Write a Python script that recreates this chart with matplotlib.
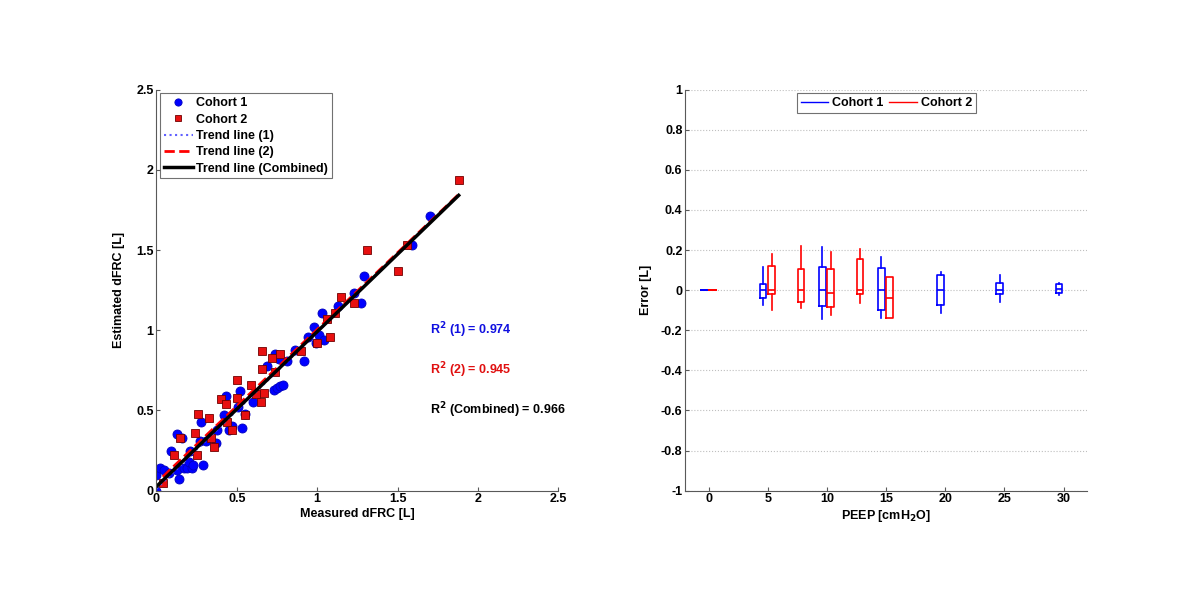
import numpy as np
import matplotlib.pyplot as plt
import matplotlib as mpl

mpl.rcParams['font.family'] = ['Liberation Sans', 'DejaVu Sans']
mpl.rcParams['font.weight'] = 'bold'
mpl.rcParams['axes.labelweight'] = 'bold'
mpl.rcParams['xtick.direction'] = 'in'
mpl.rcParams['ytick.direction'] = 'in'

# ---- left panel: measured vs estimated dFRC ----
c1_meas = [0.00, 0.00, 0.02, 0.05, 0.08, 0.09, 0.13, 0.14, 0.13, 0.16, 0.17, 0.19, 0.20,
           0.21, 0.22, 0.23, 0.29, 0.27, 0.28, 0.31, 0.37, 0.38, 0.42, 0.43, 0.45, 0.47,
           0.53, 0.52, 0.51, 0.55, 0.60, 0.69, 0.73, 0.75, 0.77, 0.79, 0.74, 0.76, 0.81,
           0.86, 0.92, 0.94, 0.98, 0.99, 1.01, 1.04, 1.03, 1.13, 1.23, 1.27, 1.29, 1.59, 1.70]
c1_est = [0.00, 0.10, 0.14, 0.13, 0.11, 0.25, 0.13, 0.07, 0.35, 0.33, 0.14, 0.14, 0.18,
          0.25, 0.14, 0.16, 0.16, 0.31, 0.43, 0.31, 0.30, 0.38, 0.47, 0.59, 0.38, 0.40,
          0.39, 0.62, 0.52, 0.48, 0.55, 0.78, 0.63, 0.64, 0.65, 0.66, 0.85, 0.82, 0.81,
          0.88, 0.81, 0.96, 1.02, 0.92, 0.97, 0.94, 1.11, 1.15, 1.23, 1.17, 1.34, 1.53, 1.71]
c2_meas = [0.04, 0.11, 0.15, 0.25, 0.24, 0.26, 0.33, 0.34, 0.36, 0.40, 0.43, 0.44, 0.47,
           0.50, 0.50, 0.55, 0.59, 0.62, 0.65, 0.67, 0.66, 0.66, 0.72, 0.74, 0.77, 0.90,
           1.00, 1.06, 1.08, 1.11, 1.15, 1.23, 1.31, 1.50, 1.56, 1.88]
c2_est = [0.05, 0.22, 0.33, 0.22, 0.36, 0.48, 0.45, 0.33, 0.27, 0.57, 0.54, 0.43, 0.38,
          0.69, 0.58, 0.47, 0.66, 0.60, 0.55, 0.61, 0.76, 0.87, 0.83, 0.74, 0.85, 0.87,
          0.92, 1.07, 0.96, 1.11, 1.21, 1.17, 1.50, 1.37, 1.53, 1.94]

# trend lines: slope, intercept
trend1 = (0.975, 0.012)
trend2 = (0.957, 0.048)
trend_all = (0.966, 0.025)
r2_labels = ['R$^2$ (1) = 0.974', 'R$^2$ (2) = 0.945', 'R$^2$ (Combined) = 0.966']
r2_colors = ['#1010e0', '#e01010', 'black']
r2_y = [1.0, 0.75, 0.5]

# ---- right panel: error vs PEEP (box stats: whislo, q1, med, q3, whishi) ----
peep1 = [0, 5, 10, 15, 20, 25, 30]
box1 = [(0, 0, 0, 0, 0),
        (-0.075, -0.038, 0.0, 0.030, 0.117),
        (-0.142, -0.080, 0.0, 0.117, 0.217),
        (-0.137, -0.097, 0.0, 0.113, 0.163),
        (-0.113, -0.072, 0.0, 0.078, 0.092),
        (-0.058, -0.017, 0.003, 0.037, 0.078),
        (-0.023, -0.013, 0.008, 0.032, 0.038)]
peep2 = [0, 5, 7.5, 10, 12.5, 15]
box2 = [(0, 0, 0, 0, 0),
        (-0.097, -0.020, 0.003, 0.123, 0.180),
        (-0.088, -0.060, 0.003, 0.105, 0.220),
        (-0.122, -0.082, -0.012, 0.108, 0.188),
        (-0.063, -0.020, 0.003, 0.157, 0.207),
        (-0.137, -0.137, -0.037, 0.067, 0.067)]

blue = '#0000ff'
red = '#ff0000'
spine_col = '0.35'

fig = plt.figure(figsize=(12, 6.02), dpi=100)
ax = fig.add_axes([0.1303, 0.185, 0.335, 0.666])
ax2 = fig.add_axes([0.571, 0.185, 0.335, 0.666])

# scatter
ax.plot(c1_meas, c1_est, 'o', color=blue, mec='#0000c0', mew=0.6, ms=6.5, label='Cohort 1')
ax.plot(c2_meas, c2_est, 's', color='#e81010', mec='#700000', mew=0.6, ms=5.2, label='Cohort 2')

xx1 = np.array([min(c1_meas), max(c1_meas)])
xx2 = np.array([min(c2_meas), max(c2_meas)])
xxa = np.array([min(c1_meas + c2_meas), max(c1_meas + c2_meas)])
ax.plot(xx1, trend1[0] * xx1 + trend1[1], ':', color='#6060ff', lw=1.5, label='Trend line (1)')
ax.plot(xx2, trend2[0] * xx2 + trend2[1], '--', color=red, lw=2, label='Trend line (2)')
ax.plot(xxa, trend_all[0] * xxa + trend_all[1], '-', color='black', lw=2.5, label='Trend line (Combined)')

for lab, col, yy in zip(r2_labels, r2_colors, r2_y):
    ax.text(1.70, yy, lab, color=col, fontsize=9, fontweight='bold', va='center')

ax.set_xlim(0, 2.5)
ax.set_ylim(0, 2.5)
ax.set_xticks([0, 0.5, 1, 1.5, 2, 2.5])
ax.set_yticks([0, 0.5, 1, 1.5, 2, 2.5])
ax.set_xticklabels(['0', '0.5', '1', '1.5', '2', '2.5'])
ax.set_yticklabels(['0', '0.5', '1', '1.5', '2', '2.5'])
ax.set_xlabel('Measured dFRC [L]', fontsize=9, labelpad=2)
ax.set_ylabel('Estimated dFRC [L]', fontsize=9, labelpad=8)
leg = ax.legend(loc='upper left', fontsize=9, handlelength=2.3, handletextpad=0.3,
                borderaxespad=0.3, labelspacing=0.35, fancybox=False, edgecolor='0.3',
                borderpad=0.3, markerscale=0.8)
leg.get_frame().set_linewidth(0.8)

# boxes
def stats(vals):
    out = []
    for lo, q1, med, q3, hi in vals:
        out.append(dict(whislo=lo, q1=q1, med=med, q3=q3, whishi=hi, fliers=[]))
    return out

pos1 = [p - 0.4 for p in peep1]
pos2 = [p + 0.3 for p in peep2]
for st, pos, col in [(stats(box1), pos1, blue), (stats(box2), pos2, red)]:
    lp = dict(color=col, lw=1.2)
    ax2.bxp(st, positions=pos, widths=0.55, showcaps=False, showfliers=False,
            boxprops=lp, whiskerprops=lp, medianprops=lp, manage_ticks=False)

ax2.plot([], [], color=blue, lw=1, label='Cohort 1')
ax2.plot([], [], color=red, lw=1, label='Cohort 2')
leg2 = ax2.legend(loc='upper center', ncol=2, fontsize=9, handlelength=2.2,
                  handletextpad=0.3, columnspacing=0.5, borderaxespad=0.3,
                  fancybox=False, edgecolor='0.3', borderpad=0.3)
leg2.get_frame().set_linewidth(0.8)

ax2.set_xlim(-2, 32)
ax2.set_ylim(-1, 1)
ax2.set_xticks([0, 5, 10, 15, 20, 25, 30])
ax2.set_yticks(np.round(np.arange(-1, 1.01, 0.2), 1))
ax2.set_yticklabels(['-1', '-0.8', '-0.6', '-0.4', '-0.2', '0', '0.2', '0.4', '0.6', '0.8', '1'])
ax2.yaxis.grid(True, linestyle=':', color='0.75', lw=0.8)
ax2.set_axisbelow(True)
ax2.set_xlabel('PEEP [cmH$_2$O]', fontsize=9, labelpad=2)
ax2.set_ylabel('Error [L]', fontsize=9, labelpad=6)

for a in (ax, ax2):
    a.spines['top'].set_visible(False)
    a.spines['right'].set_visible(False)
    a.spines['left'].set_color(spine_col)
    a.spines['bottom'].set_color(spine_col)
    a.tick_params(labelsize=9, length=3, color=spine_col, pad=2)
    for t in a.get_xticklabels() + a.get_yticklabels():
        t.set_fontweight('bold')

fig.savefig('out.png', dpi=100)
